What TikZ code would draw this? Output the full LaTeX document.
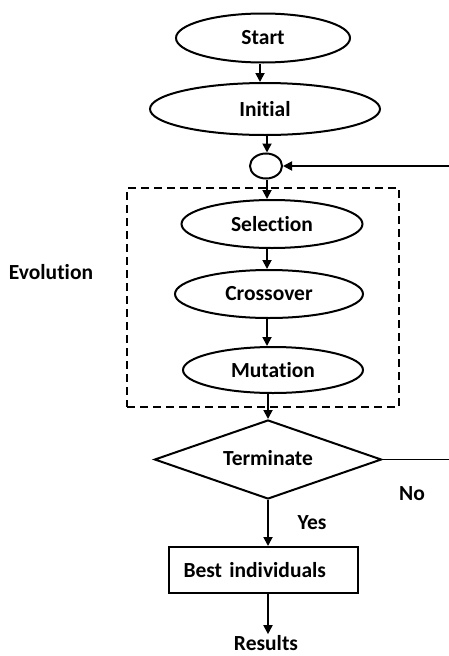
\documentclass[tikz,border=0pt]{standalone}
\usepackage{fontspec}
\setmainfont[Ligatures=NoCommon]{Carlito}
\usetikzlibrary{shapes.geometric,arrows.meta}
\begin{document}
\begin{tikzpicture}[x=1pt,y=-1pt,
  every node/.style={font=\fontsize{21.5}{25}\selectfont\bfseries},
  oval/.style={draw,line width=2pt,ellipse,inner sep=0pt},
  arr/.style={line width=1.8pt,-{Triangle[length=9pt,width=9pt]}},
  plain/.style={line width=1.8pt}]
\useasboundingbox (0,0) rectangle (449,656);
\node[oval,minimum width=174pt,minimum height=49pt] (start) at (263,38) {Start};
\node[oval,minimum width=230pt,minimum height=52pt] (initial) at (265,109) {Initial};
\node[oval,minimum width=32pt,minimum height=25pt] (junc) at (266,166) {};
\node[oval,minimum width=181pt,minimum height=48pt] (sel) at (272,224) {Selection};
\node[oval,minimum width=188pt,minimum height=48pt] (cross) at (269,294) {Crossover};
\node[oval,minimum width=180pt,minimum height=46pt] (mut) at (273,370) {Mutation};
\node[draw,line width=2pt,dash pattern=on 8pt off 5pt,minimum width=272pt,minimum height=219pt] (evo) at (263,297.5) {};
\node (evolab) at (51,272) {Evolution};
\node[draw,line width=2pt,diamond,aspect=2.87,inner sep=0pt,minimum width=227pt,minimum height=79pt] (term) at (268,459.5) {\raisebox{4pt}{Terminate}\hspace{10pt}};
\node[draw,line width=2pt,rectangle,inner xsep=15pt,text width=159pt,align=left,minimum height=46pt] (best) at (263,570) {Best individuals};
\node[inner sep=1pt] (res) at (266,643) {Results};
\node (no) at (412,494) {No};
\node (yes) at (312,523) {Yes};
\coordinate (axis) at (267,0);
\coordinate (rtop) at (449,166);
\coordinate (rbot) at (449,459.5);
\draw[arr] (start.south -| 260,0) -- (initial.north -| 260,0);
\draw[arr] (initial.south -| axis) -- (junc.north -| axis);
\draw[arr] (junc.south -| axis) -- (sel.north -| axis);
\draw[arr] (sel.south -| axis) -- (cross.north -| axis);
\draw[arr] (cross.south -| axis) -- (mut.north -| axis);
\draw[arr] (mut.south -| term.north) -- (term.north);
\draw[arr] (term.south) -- (best.north -| term.south);
\draw[arr] (best.south -| term.south) -- (res.north -| term.south);
\draw[arr] (rtop) -- (junc.east);
\draw[plain] (term.east) -- (rbot);
\end{tikzpicture}
\end{document}
